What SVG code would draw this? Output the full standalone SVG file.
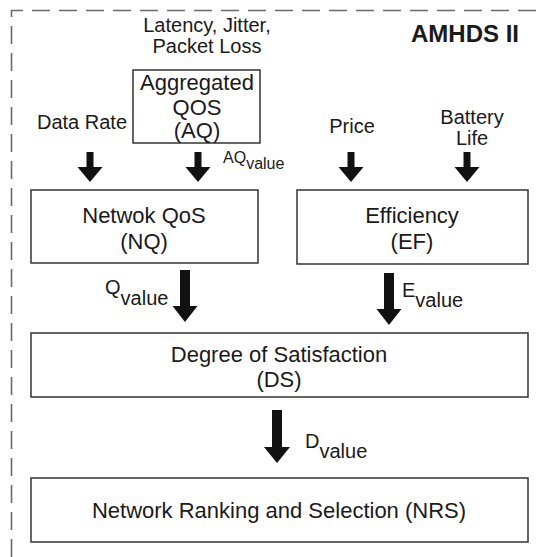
<svg xmlns="http://www.w3.org/2000/svg" width="538" height="557" viewBox="0 0 538 557">
<style>
.bx{fill:#fff;stroke:#333;stroke-width:1.5}
.t{font-family:"Liberation Sans",Arial,sans-serif;fill:#1a1a1a}
.lb{font-size:20px}
.nd{font-size:22px;text-anchor:middle}
.ar{fill:#111}
</style>
<rect width="538" height="557" fill="#fff"/>
<path d="M11.5,557 V10.5 H538" fill="none" stroke="#6a6a6a" stroke-width="1.6" stroke-dasharray="18,9"/>
<text class="t" x="411" y="42" style="font-size:24px;font-weight:bold">AMHDS II</text>

<g id="AQ">
<rect class="bx" x="133" y="70" width="127" height="73"/>
<text class="t nd" x="197" y="90">Aggregated</text>
<text class="t nd" x="197" y="115">QOS</text>
<text class="t nd" x="197" y="138">(AQ)</text>
</g>
<g id="NQ">
<rect class="bx" x="31" y="190" width="227" height="73"/>
<text class="t nd" x="144" y="223">Netwok QoS</text>
<text class="t nd" x="144" y="249">(NQ)</text>
</g>
<g id="EF">
<rect class="bx" x="297" y="190" width="231" height="74"/>
<text class="t nd" x="412" y="223">Efficiency</text>
<text class="t nd" x="412" y="249">(EF)</text>
</g>
<g id="DS">
<rect class="bx" x="31" y="333" width="497" height="64"/>
<text class="t nd" x="279" y="362">Degree of Satisfaction</text>
<text class="t nd" x="279" y="387">(DS)</text>
</g>
<g id="NRS">
<rect class="bx" x="31" y="478" width="497" height="64"/>
<text class="t nd" x="279" y="518">Network Ranking and Selection (NRS)</text>
</g>

<g id="inputs">
<text class="t lb" x="207" y="32" text-anchor="middle">Latency, Jitter,</text>
<text class="t lb" x="207" y="53" text-anchor="middle">Packet Loss</text>
<text class="t lb" x="37" y="129">Data Rate</text>
<text class="t lb" x="352" y="133" text-anchor="middle">Price</text>
<text class="t lb" x="472" y="124" text-anchor="middle">Battery</text>
<text class="t lb" x="472" y="145" text-anchor="middle">Life</text>
</g>

<g id="connectors">
<polygon class="ar" points="86.5,152 93.5,152 93.5,167 102.5,167 90,182 77.5,167 86.5,167"/>
<polygon class="ar" points="194.5,152 201.5,152 201.5,167 210.5,167 198,182 185.5,167 194.5,167"/>
<polygon class="ar" points="347.5,152 354.5,152 354.5,167 363.5,167 351,182 338.5,167 347.5,167"/>
<polygon class="ar" points="463.5,152 470.5,152 470.5,167 479.5,167 467,182 454.5,167 463.5,167"/>
<polygon class="ar" points="180,270 190,270 190,306 197.5,306 185,322 172.5,306 180,306"/>
<polygon class="ar" points="384,273 394,273 394,309 401.5,309 389,325 376.5,309 384,309"/>
<polygon class="ar" points="272,410 282,410 282,447 290,447 277,463 264,447 272,447"/>
<text class="t" x="223" y="163" style="font-size:16px">AQ<tspan dy="6">value</tspan></text>
<text class="t lb" x="105" y="294">Q<tspan dy="11">value</tspan></text>
<text class="t lb" x="402" y="297">E<tspan dy="10">value</tspan></text>
<text class="t lb" x="305" y="448">D<tspan dy="10">value</tspan></text>
</g>
</svg>
